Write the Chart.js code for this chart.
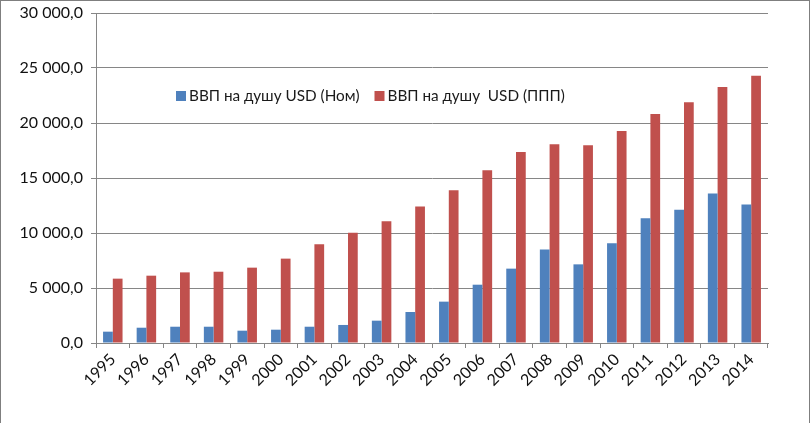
<!DOCTYPE html>
<html>
<head>
<meta charset="utf-8">
<script src="https://cdn.jsdelivr.net/npm/chart.js@4/dist/chart.umd.min.js"></script>
<style>
  body { margin: 0; background: #fff; }
  #wrap { width: 808px; height: 422px; border: 1px solid #7f7f7f; position: relative; }
  canvas { display: block; }
</style>
</head>
<body>
<div id="wrap"><canvas id="gdpChart" width="806" height="420"></canvas></div>
<script>
// годы и данные (оценка по картинке)
const years = ['1995','1996','1997','1998','1999','2000','2001','2002','2003','2004',
               '2005','2006','2007','2008','2009','2010','2011','2012','2013','2014'];
const gdpNominal = [1030, 1390, 1480, 1480, 1120, 1210, 1480, 1640, 2030, 2820,
                    3760, 5300, 6760, 8490, 7150, 9060, 11330, 12120, 13600, 12600];
const gdpPPP = [5850, 6120, 6420, 6480, 6850, 7670, 8970, 10030, 11060, 12420,
                13880, 15700, 17360, 18060, 17970, 19270, 20820, 21880, 23270, 24300];
const seriesNames = ['ВВП на душу USD (Ном)', 'ВВП на душу  USD (ППП)'];
const yTicks = [0, 5000, 10000, 15000, 20000, 25000, 30000];

const FONT = 'Lato, "Open Sans", sans-serif';
const GRID = '#868686';

function fmt(v) {
  // 30000 -> "30 000,0"
  const s = Math.round(v).toString().replace(/\B(?=(\d{3})+(?!\d))/g, ' ');
  return s + ',0';
}

// легенда внутри области графика
const innerLegend = {
  id: 'innerLegend',
  afterDraw(chart) {
    const ctx = chart.ctx;
    const area = chart.chartArea;
    let x = area.left + 80;
    const y = area.top + 83;
    ctx.save();
    ctx.font = '15.3px ' + FONT;
    ctx.textBaseline = 'middle';
    chart.data.datasets.forEach(ds => {
      ctx.fillStyle = ds.backgroundColor;
      ctx.fillRect(x, y - 5, 10, 10);
      ctx.fillStyle = '#1a1a1a';
      ctx.fillText(ds.label, x + 13, y);
      x += 13 + ctx.measureText(ds.label).width + 15;
    });
    ctx.restore();
  }
};

const ctx = document.getElementById('gdpChart').getContext('2d');
new Chart(ctx, {
  type: 'bar',
  data: {
    labels: years,
    datasets: [
      { label: seriesNames[0], data: gdpNominal, backgroundColor: '#4F81BD' },
      { label: seriesNames[1], data: gdpPPP, backgroundColor: '#C0504D' }
    ]
  },
  options: {
    responsive: false,
    animation: false,
    layout: { padding: { top: 12, right: 39, left: 0, bottom: 0 } },
    datasets: { bar: { categoryPercentage: 0.58, barPercentage: 1.0 } },
    plugins: {
      legend: { display: false },
      tooltip: { enabled: false }
    },
    scales: {
      x: {
        grid: { display: true, drawOnChartArea: false, drawTicks: true, tickLength: 5, color: GRID, offset: true },
        border: { color: GRID },
        ticks: { color: '#111', font: { family: FONT, size: 16 }, minRotation: 45, maxRotation: 45, autoSkip: false, padding: 2 },
        afterFit(scale) { scale.height = 78; scale.paddingLeft = 0; scale.paddingRight = 0; }
      },
      y: {
        min: 0,
        max: 30000,
        afterBuildTicks(scale) { scale.ticks = yTicks.map(v => ({ value: v })); },
        grid: { color: GRID, tickLength: 5 },
        border: { color: GRID },
        ticks: { color: '#111', font: { family: FONT, size: 16 }, padding: 8, callback: v => fmt(v) },
        afterFit(scale) { scale.width = 95; scale.paddingTop = 0; scale.paddingBottom = 0; }
      }
    }
  },
  plugins: [innerLegend]
});
</script>
</body>
</html>
